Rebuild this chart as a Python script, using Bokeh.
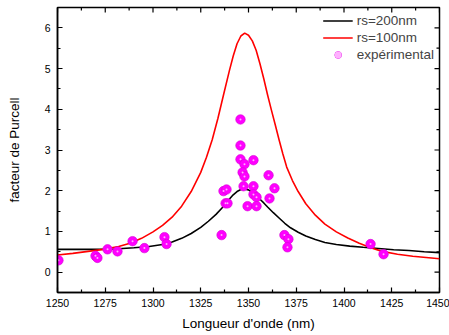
import math
from bokeh.plotting import figure
from bokeh.models import Range1d, Legend, LegendItem, FixedTicker
from bokeh.embed import file_html
from bokeh.resources import INLINE

# rs=200nm curve
wl_200 = [1250, 1260, 1270, 1280, 1290, 1298, 1305, 1310, 1315, 1320, 1325, 1329, 1333,
          1336, 1339, 1342, 1344, 1346, 1348, 1350, 1352, 1354, 1356, 1358, 1360, 1363,
          1366, 1369, 1372, 1376, 1380, 1385, 1390, 1396, 1403, 1410, 1418, 1426, 1434,
          1442, 1450]
fp_200 = [0.56, 0.56, 0.56, 0.57, 0.60, 0.63, 0.68, 0.74, 0.83, 0.95, 1.10, 1.25, 1.42,
          1.57, 1.74, 1.90, 1.98, 2.03, 2.04, 2.02, 1.96, 1.88, 1.79, 1.70, 1.60, 1.46,
          1.33, 1.20, 1.09, 0.98, 0.89, 0.80, 0.73, 0.68, 0.64, 0.61, 0.58, 0.55, 0.53,
          0.50, 0.48]

# rs=100nm curve
wl_100 = [1250, 1258, 1266, 1274, 1282, 1288, 1294, 1300, 1305, 1310, 1315, 1320, 1325,
          1328, 1331, 1334, 1337, 1340, 1342, 1344, 1346, 1348, 1350, 1352, 1354, 1356,
          1358, 1360, 1362, 1364, 1366, 1368, 1370, 1373, 1376, 1380, 1385, 1390, 1396,
          1402, 1408, 1414, 1420, 1428, 1436, 1443, 1450]
fp_100 = [0.42, 0.46, 0.51, 0.56, 0.63, 0.71, 0.83, 0.99, 1.15, 1.35, 1.62, 1.98, 2.45,
          2.82, 3.25, 3.78, 4.37, 4.95, 5.31, 5.61, 5.80, 5.87, 5.82, 5.68, 5.45, 5.12,
          4.75, 4.35, 3.98, 3.62, 3.25, 2.90, 2.58, 2.25, 1.98, 1.68, 1.40, 1.18, 0.99,
          0.84, 0.71, 0.60, 0.51, 0.44, 0.39, 0.36, 0.33]

# experimental points
wl_exp = [1250.5, 1269.9, 1270.9, 1276.2, 1281.4, 1289.3, 1295.5, 1306.0, 1307.1, 1335.9,
          1336.9, 1338.5, 1338.0, 1339.0, 1345.8, 1345.8, 1345.8, 1347.9, 1352.6, 1346.9,
          1347.9, 1360.5, 1347.4, 1352.6, 1363.6, 1352.6, 1354.2, 1361.0, 1349.5, 1354.2,
          1368.8, 1370.9, 1370.4, 1413.9, 1420.7]
fp_exp = [0.29, 0.40, 0.35, 0.56, 0.51, 0.76, 0.59, 0.86, 0.69, 0.91,
          1.99, 2.03, 1.69, 1.69, 3.75, 3.11, 2.77, 2.65, 2.75, 2.45,
          2.35, 2.38, 2.11, 2.11, 2.06, 1.91, 1.84, 1.81, 1.62, 1.62,
          0.91, 0.81, 0.61, 0.69, 0.44]

# axes
x_min, x_max = 1250, 1450
y_min, y_max = -0.5, 6.5
x_ticks = [1250, 1275, 1300, 1325, 1350, 1375, 1400, 1425, 1450]
x_minor = [1262.5, 1287.5, 1312.5, 1337.5, 1362.5, 1387.5, 1412.5, 1437.5]
y_ticks = [0, 1, 2, 3, 4, 5, 6]
y_minor = [-0.5, 0.5, 1.5, 2.5, 3.5, 4.5, 5.5, 6.5]

FONT = "Liberation Sans"

p = figure(width=449, height=335, output_backend="svg", toolbar_location=None,
           x_range=Range1d(x_min, x_max), y_range=Range1d(y_min, y_max),
           min_border_left=57, min_border_right=10, min_border_top=7, min_border_bottom=43,
           x_axis_label="Longueur d'onde (nm)", y_axis_label="facteur de Purcell")
p.xgrid.visible = False
p.ygrid.visible = False
p.outline_line_color = "black"
p.outline_line_width = 1.5
p.background_fill_color = "white"
p.border_fill_color = "white"

for ax in (p.xaxis[0], p.yaxis[0]):
    ax.major_tick_in = 5
    ax.major_tick_out = 0
    ax.minor_tick_in = 3
    ax.minor_tick_out = 0
    ax.axis_line_width = 1.5
    ax.major_tick_line_width = 1.2
    ax.minor_tick_line_width = 1.2
    ax.major_label_text_font = FONT
    ax.major_label_text_font_size = "10.5px"
    ax.major_label_text_color = "black"
    ax.axis_label_text_font = FONT
    ax.axis_label_text_font_size = "13.5px"
    ax.axis_label_text_font_style = "normal"
    ax.axis_label_text_color = "black"

p.xaxis[0].ticker = FixedTicker(ticks=x_ticks, minor_ticks=x_minor)
p.yaxis[0].ticker = FixedTicker(ticks=y_ticks, minor_ticks=y_minor)
p.xaxis[0].major_label_standoff = 6
p.xaxis[0].axis_label_standoff = 6
p.yaxis[0].major_label_standoff = 7
p.yaxis[0].axis_label_standoff = 20

# mirrored inward ticks on the top and right edges (half of each dash is clipped by the frame)
p.scatter(x_ticks, [y_max] * len(x_ticks), marker="dash", angle=math.pi / 2, size=10,
          line_color="black", line_width=1.2)
p.scatter(x_minor, [y_max] * len(x_minor), marker="dash", angle=math.pi / 2, size=6,
          line_color="black", line_width=1.2)
p.scatter([x_max] * len(y_ticks), y_ticks, marker="dash", size=10,
          line_color="black", line_width=1.2)
p.scatter([x_max] * len(y_minor), y_minor, marker="dash", size=6,
          line_color="black", line_width=1.2)

r200 = p.line(wl_200, fp_200, line_color="black", line_width=1.6)
r100 = p.line(wl_100, fp_100, line_color="#ff0000", line_width=1.6)
rexp = p.scatter(wl_exp, fp_exp, size=9.5, fill_color="#ff00ff", line_color="#d400d4",
                 line_width=0.6)
rhl = p.scatter(wl_exp, fp_exp, size=2, fill_color="#ffb0ff", line_color=None)

legend = Legend(items=[
    LegendItem(label="rs=200nm", renderers=[r200]),
    LegendItem(label="rs=100nm", renderers=[r100]),
    LegendItem(label="expérimental", renderers=[rexp, rhl]),
], location="top_right")
legend.border_line_color = None
legend.background_fill_alpha = 0
legend.label_text_font = FONT
legend.label_text_font_size = "13.5px"
legend.label_height = 17
legend.glyph_height = 17
legend.glyph_width = 30
legend.label_standoff = 4
legend.spacing = 0
legend.padding = 5
legend.margin = 5
p.add_layout(legend)

open("out.html", "w").write(file_html(p, INLINE))
